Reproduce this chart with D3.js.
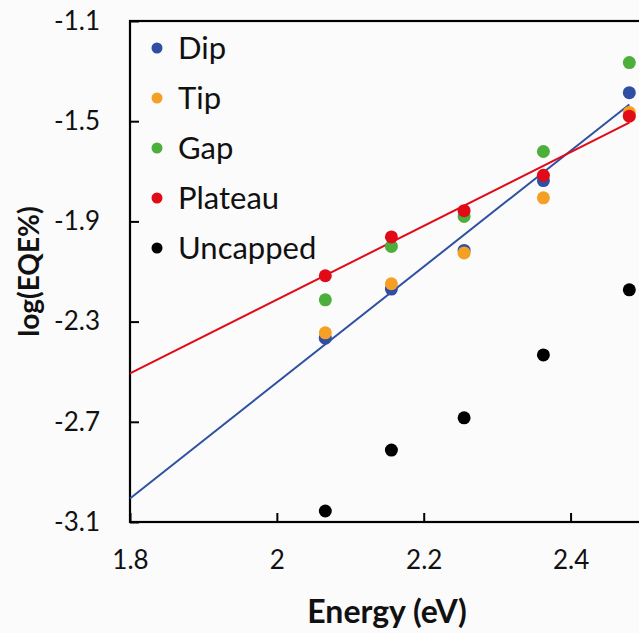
<!DOCTYPE html>
<html>
<head>
<meta charset="utf-8">
<script src="https://cdn.jsdelivr.net/npm/d3@7"></script>
<style>
  body { margin: 0; background: #fbfbfb; overflow: hidden; }
  svg { display: block; }
</style>
</head>
<body>
<div id="chart"></div>
<script>
// photon energies (eV) for 600, 575, 550, 525, 500 nm
const energy = [2.066, 2.156, 2.255, 2.363, 2.480];

const dip = [-2.366, -2.170, -2.016, -1.737, -1.386];
const tip = [-2.345, -2.149, -2.026, -1.806, -1.465];
const gap = [-2.213, -2.000, -1.880, -1.621, -1.266];
const plateau = [-2.117, -1.962, -1.857, -1.716, -1.480];
const uncapped = [-3.056, -2.813, -2.684, -2.433, -2.173];

// trendline endpoints [energy, value]
const dipTrend = [[1.8, -3.006], [2.48, -1.433]];
const plateauTrend = [[1.8, -2.507], [2.48, -1.506]];

const xTicks = [1.8, 2.0, 2.2, 2.4];
const yTicks = [-3.1, -2.7, -2.3, -1.9, -1.5, -1.1];

const seriesList = [
    { name: "Dip", values: dip, color: "#2f4fa2" },
    { name: "Tip", values: tip, color: "#f4a025" },
    { name: "Gap", values: gap, color: "#4caf3c" },
    { name: "Plateau", values: plateau, color: "#e10a17" },
    { name: "Uncapped", values: uncapped, color: "#000000" }
];

const W = 639, H = 633;
const margin = { top: 21, right: -5, bottom: 111, left: 130 };
const width = W - margin.left - margin.right;
const height = H - margin.top - margin.bottom;

const svg = d3.select("#chart").append("svg")
    .attr("width", W)
    .attr("height", H)
    .style("font-family", "Lato, 'Open Sans', sans-serif");

const g = svg.append("g")
    .attr("transform", `translate(${margin.left},${margin.top})`);

const x = d3.scaleLinear().domain([1.8, 2.5]).range([0, width]);
const y = d3.scaleLinear().domain([-3.1, -1.1]).range([height, 0]);

// frame
g.append("rect")
    .attr("width", width)
    .attr("height", height)
    .attr("fill", "none")
    .attr("stroke", "#000")
    .attr("stroke-width", 2.2);

// axes with inward ticks, plain hyphen for negatives
const fmt = d => String(d);
const xAxis = g.append("g")
    .attr("transform", `translate(0,${height})`)
    .call(d3.axisBottom(x).tickValues(xTicks).tickSizeInner(-9).tickSizeOuter(0)
        .tickPadding(29).tickFormat(fmt));

const yAxis = g.append("g")
    .call(d3.axisLeft(y).tickValues(yTicks).tickSizeInner(-9).tickSizeOuter(0)
        .tickPadding(30).tickFormat(fmt));

[xAxis, yAxis].forEach(ax => {
    ax.select(".domain").remove();
    ax.selectAll(".tick line").attr("stroke", "#000").attr("stroke-width", 2);
    ax.selectAll(".tick text")
        .attr("fill", "#111")
        .style("font-size", "26px")
        .style("font-family", "Lato, 'Open Sans', sans-serif");
});

// trendlines
const line = d3.line().x(d => x(d[0])).y(d => y(d[1]));
g.append("path").datum(dipTrend)
    .attr("d", line).attr("fill", "none")
    .attr("stroke", "#2f4fa2").attr("stroke-width", 2);
g.append("path").datum(plateauTrend)
    .attr("d", line).attr("fill", "none")
    .attr("stroke", "#e10a17").attr("stroke-width", 2);

// points, stacked like the original: Dip under Tip, Plateau on top
const order = [seriesList[4], seriesList[0], seriesList[1], seriesList[2], seriesList[3]];
order.forEach(s => {
    g.append("g").selectAll("circle")
        .data(s.values.map((v, i) => [energy[i], v]))
        .join("circle")
        .attr("cx", d => x(d[0]))
        .attr("cy", d => y(d[1]))
        .attr("r", 6.5)
        .attr("fill", s.color);
});

// legend
const legend = g.append("g").attr("transform", "translate(27,27)");
seriesList.forEach((s, i) => {
    legend.append("circle")
        .attr("cx", 0)
        .attr("cy", i * 50)
        .attr("r", 5.5)
        .attr("fill", s.color);
    legend.append("text")
        .attr("x", 21)
        .attr("y", i * 50)
        .attr("dy", "0.36em")
        .attr("fill", "#111")
        .style("font-size", "31px")
        .text(s.name);
});

// axis titles
svg.append("text")
    .attr("x", margin.left + (x(2.5) - x(1.8)) / 2)
    .attr("y", 623)
    .attr("text-anchor", "middle")
    .attr("fill", "#111")
    .style("font-size", "32px")
    .style("font-weight", "bold")
    .text("Energy (eV)");

svg.append("text")
    .attr("transform", `translate(39,${margin.top + height / 2}) rotate(-90)`)
    .attr("text-anchor", "middle")
    .attr("fill", "#111")
    .style("font-size", "28px")
    .style("font-weight", "bold")
    .text("log(EQE%)");
</script>
</body>
</html>
